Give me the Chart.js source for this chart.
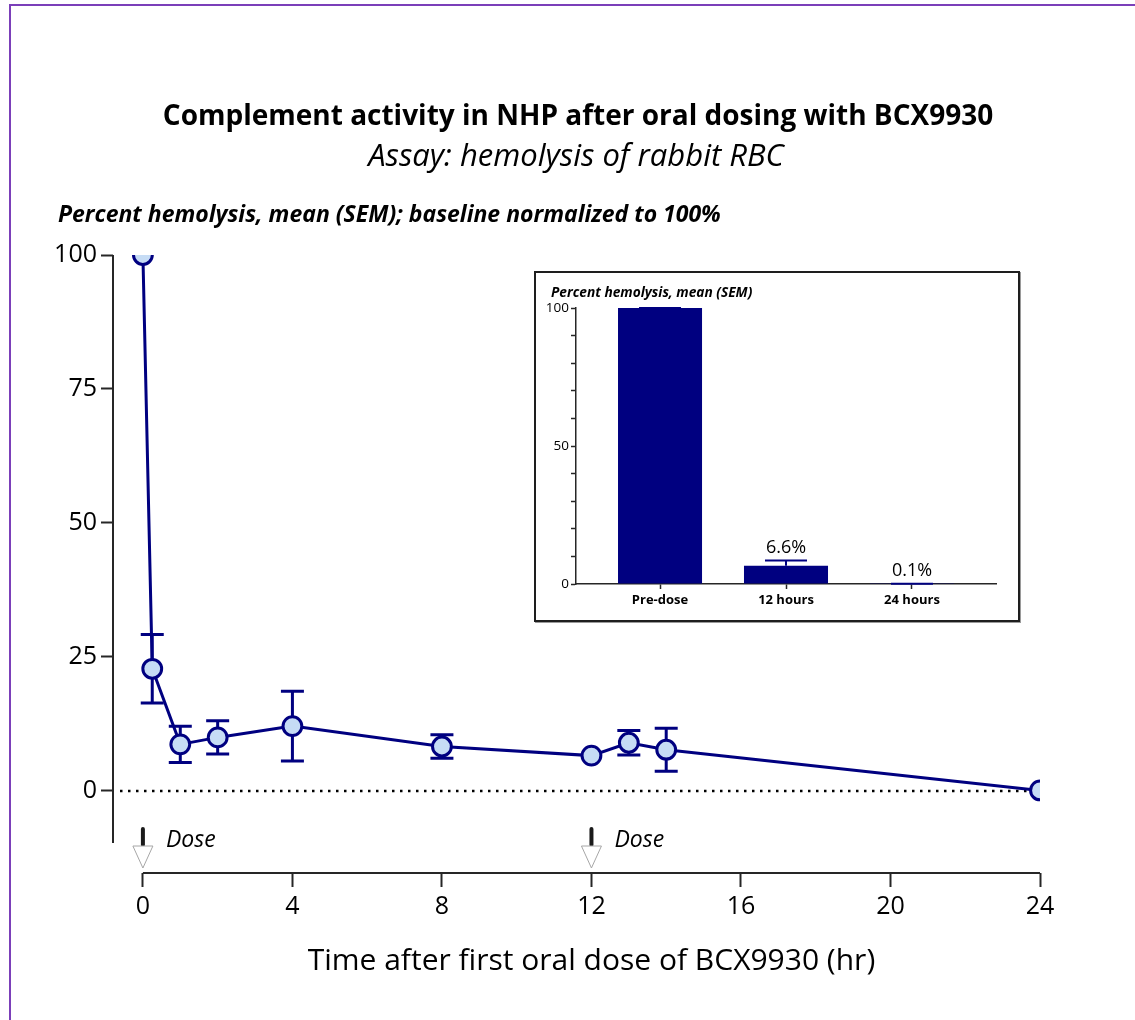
<!DOCTYPE html>
<html>
<head>
<meta charset="utf-8">
<title>Complement activity in NHP after oral dosing with BCX9930</title>
<script src="https://cdn.jsdelivr.net/npm/chart.js@4.4.1/dist/chart.umd.min.js"></script>
<style>
    body { margin: 0; background: #fff; }
    #page { position: relative; width: 1135px; height: 1020px; overflow: hidden; }
    #frame {
        position: absolute; left: 9px; top: 4px; right: -10px; bottom: -10px;
        border-top: 2px solid #7b3fb9; border-left: 2px solid #7b3fb9;
    }
    #main { position: absolute; left: 0; top: 0; }
    #insetBox {
        position: absolute; left: 534px; top: 271px; width: 482px; height: 347px;
        border: 2px solid #1e1e1e; box-shadow: 1px 1px 0 #9a9a9a; background: #fff;
    }
    #inset { display: block; }
</style>
</head>
<body>
<div id="page">
    <div id="frame"></div>
    <canvas id="main" width="1135" height="1020"></canvas>
    <div id="insetBox"><canvas id="inset" width="482" height="347"></canvas></div>
</div>
<script>
// main time course (hours after first dose)
const times = [0, 0.25, 1, 2, 4, 8, 12, 13, 14, 24];
const meanHemolysis = [100, 22.8, 8.7, 10.0, 12.1, 8.3, 6.6, 9.0, 7.7, 0.1];
const semHemolysis = [0, 6.4, 3.4, 3.1, 6.5, 2.2, 0, 2.3, 4.0, 0];
const xTicks = [0, 4, 8, 12, 16, 20, 24];
const yTicks = [0, 25, 50, 75, 100];
const doseTimes = [0, 12];

// inset bars
const insetLabels = ['Pre-dose', '12 hours', '24 hours'];
const insetMeans = [100, 6.6, 0.1];
const insetSem = [0, 1.9, 0];
const insetValueLabels = ['', '6.6%', '0.1%'];
const insetTicks = [0, 10, 20, 30, 40, 50, 60, 70, 80, 90, 100];
const insetLabelTicks = [0, 50, 100];

const NAVY = '#000080';
const MARKER_FILL = '#c6dcf5';
const AXIS = '#262626';
const FONT = '"Open Sans"';

const mainDecor = {
    id: 'mainDecor',
    beforeDatasetsDraw(chart) {
        const { ctx, chartArea, scales: { x, y } } = chart;
        ctx.save();
        // dotted zero line
        ctx.strokeStyle = '#000';
        ctx.lineWidth = 2.5;
        ctx.setLineDash([2.5, 5.5]);
        ctx.beginPath();
        ctx.moveTo(chartArea.left + 7, y.getPixelForValue(0));
        ctx.lineTo(chartArea.right, y.getPixelForValue(0));
        ctx.stroke();
        ctx.setLineDash([]);

        // SEM error bars
        ctx.strokeStyle = NAVY;
        ctx.lineWidth = 3;
        times.forEach((t, i) => {
            if (!semHemolysis[i]) return;
            const px = x.getPixelForValue(t);
            const top = y.getPixelForValue(meanHemolysis[i] + semHemolysis[i]);
            const bot = y.getPixelForValue(meanHemolysis[i] - semHemolysis[i]);
            ctx.beginPath();
            ctx.moveTo(px, top); ctx.lineTo(px, bot);
            ctx.moveTo(px - 11.5, top); ctx.lineTo(px + 11.5, top);
            ctx.moveTo(px - 11.5, bot); ctx.lineTo(px + 11.5, bot);
            ctx.stroke();
        });
        ctx.restore();
    },
    afterDraw(chart) {
        const { ctx, chartArea, scales: { x, y } } = chart;
        ctx.save();

        // offset axes
        ctx.strokeStyle = AXIS;
        ctx.lineWidth = 2;
        ctx.beginPath();
        ctx.moveTo(chartArea.left, y.getPixelForValue(100));
        ctx.lineTo(chartArea.left, y.getPixelForValue(-9.7));
        ctx.moveTo(x.getPixelForValue(0), chartArea.bottom);
        ctx.lineTo(x.getPixelForValue(24), chartArea.bottom);
        ctx.stroke();

        // dose markers
        doseTimes.forEach(t => {
            const px = x.getPixelForValue(t);
            const b = chartArea.bottom;
            ctx.strokeStyle = '#1a1a1a';
            ctx.lineWidth = 4;
            ctx.lineCap = 'round';
            ctx.beginPath();
            ctx.moveTo(px, b - 44);
            ctx.lineTo(px, b - 28);
            ctx.stroke();
            ctx.lineCap = 'butt';
            ctx.fillStyle = '#fff';
            ctx.strokeStyle = '#a6a6a6';
            ctx.lineWidth = 1;
            ctx.beginPath();
            ctx.moveTo(px - 10, b - 27);
            ctx.lineTo(px + 10, b - 27);
            ctx.lineTo(px, b - 5);
            ctx.closePath();
            ctx.fill();
            ctx.stroke();
            ctx.fillStyle = '#000';
            ctx.font = `italic 23px ${FONT}`;
            ctx.textAlign = 'left';
            ctx.textBaseline = 'alphabetic';
            ctx.fillText('Dose', px + 23, b - 26);
        });

        // titles
        ctx.fillStyle = '#000';
        ctx.textBaseline = 'alphabetic';
        ctx.textAlign = 'center';
        ctx.font = `bold 28px ${FONT}`;
        ctx.fillText('Complement activity in NHP after oral dosing with BCX9930', 578, 125);
        ctx.font = `italic 31px ${FONT}`;
        ctx.fillText('Assay: hemolysis of rabbit RBC', 576, 166);
        ctx.font = `bold italic 23px ${FONT}`;
        ctx.textAlign = 'left';
        ctx.fillText('Percent hemolysis, mean (SEM); baseline normalized to 100%', 58, 222);
        ctx.font = `30px ${FONT}`;
        ctx.textAlign = 'center';
        ctx.fillText('Time after first oral dose of BCX9930 (hr)', (x.getPixelForValue(0) + x.getPixelForValue(24)) / 2, 970);
        ctx.restore();
    }
};

new Chart(document.getElementById('main'), {
    type: 'line',
    data: {
        datasets: [{
            data: times.map((t, i) => ({ x: t, y: meanHemolysis[i] })),
            borderColor: NAVY,
            borderWidth: 3,
            pointRadius: 9.4,
            pointBorderWidth: 3,
            pointBackgroundColor: MARKER_FILL,
            pointBorderColor: NAVY,
            tension: 0,
            clip: 0
        }]
    },
    options: {
        responsive: false,
        animation: false,
        devicePixelRatio: 1,
        layout: { padding: { top: 255, right: 95, bottom: 0, left: 0 } },
        plugins: { legend: { display: false }, tooltip: { enabled: false } },
        scales: {
            x: {
                type: 'linear',
                min: -0.8,
                max: 24,
                afterBuildTicks: s => { s.ticks = xTicks.map(v => ({ value: v })); },
                afterFit: s => { s.height = 147; },
                grid: { drawOnChartArea: false, tickLength: 14, tickWidth: 2, tickColor: AXIS },
                border: { display: false },
                ticks: { color: '#000', font: { family: FONT, size: 25 }, padding: 5 }
            },
            y: {
                type: 'linear',
                min: -15.3,
                max: 100,
                afterBuildTicks: s => { s.ticks = yTicks.map(v => ({ value: v })); },
                afterFit: s => { s.width = 113; },
                grid: { drawOnChartArea: false, tickLength: 12, tickWidth: 2, tickColor: AXIS },
                border: { display: false },
                ticks: { color: '#000', font: { family: FONT, size: 25 }, padding: 4 }
            }
        }
    },
    plugins: [mainDecor]
});

const insetDecor = {
    id: 'insetDecor',
    afterDatasetsDraw(chart) {
        const { ctx, scales: { x, y } } = chart;
        ctx.save();
        ctx.strokeStyle = NAVY;
        ctx.lineWidth = 2;
        insetMeans.forEach((m, i) => {
            const px = x.getPixelForValue(i);
            const base = y.getPixelForValue(m);
            const top = y.getPixelForValue(m + insetSem[i]);
            ctx.beginPath();
            ctx.moveTo(px, base); ctx.lineTo(px, top);
            ctx.moveTo(px - 21, top); ctx.lineTo(px + 21, top);
            ctx.stroke();
            if (insetValueLabels[i]) {
                ctx.fillStyle = '#000';
                ctx.font = `18px ${FONT}`;
                ctx.textAlign = 'center';
                ctx.textBaseline = 'alphabetic';
                ctx.fillText(insetValueLabels[i], px, top - 8);
            }
        });
        ctx.fillStyle = '#000';
        ctx.font = `bold italic 13.7px ${FONT}`;
        ctx.textAlign = 'left';
        ctx.textBaseline = 'alphabetic';
        ctx.fillText('Percent hemolysis, mean (SEM)', 15, 24);
        ctx.restore();
    }
};

new Chart(document.getElementById('inset'), {
    type: 'bar',
    data: {
        datasets: [{
            data: insetMeans.map((v, i) => ({ x: i, y: v })),
            backgroundColor: NAVY,
            barPercentage: 0.667,
            categoryPercentage: 1
        }]
    },
    options: {
        responsive: false,
        animation: false,
        devicePixelRatio: 1,
        layout: { padding: { top: 35, right: 22, bottom: 0, left: 0 } },
        plugins: { legend: { display: false }, tooltip: { enabled: false } },
        scales: {
            x: {
                type: 'linear',
                min: -0.667,
                max: 2.667,
                offset: false,
                afterBuildTicks: s => { s.ticks = insetLabels.map((l, i) => ({ value: i })); },
                afterFit: s => { s.height = 36; },
                grid: { offset: false, drawOnChartArea: false, tickLength: 5, tickWidth: 1.5, tickColor: AXIS },
                border: { color: AXIS, width: 1.5 },
                ticks: {
                    color: '#000',
                    font: { family: FONT, size: 13, weight: 'bold' },
                    padding: 3,
                    callback: v => insetLabels[v] ?? ''
                }
            },
            y: {
                min: 0,
                max: 100,
                afterBuildTicks: s => { s.ticks = insetTicks.map(v => ({ value: v })); },
                afterFit: s => { s.width = 40; },
                grid: { drawOnChartArea: false, tickLength: 5, tickWidth: 1.5, tickColor: AXIS },
                border: { color: AXIS, width: 1.5 },
                ticks: {
                    color: '#000',
                    font: { family: FONT, size: 13.5 },
                    padding: 2,
                    callback: v => insetLabelTicks.includes(v) ? v : ''
                }
            }
        }
    },
    plugins: [insetDecor]
});
</script>
</body>
</html>
